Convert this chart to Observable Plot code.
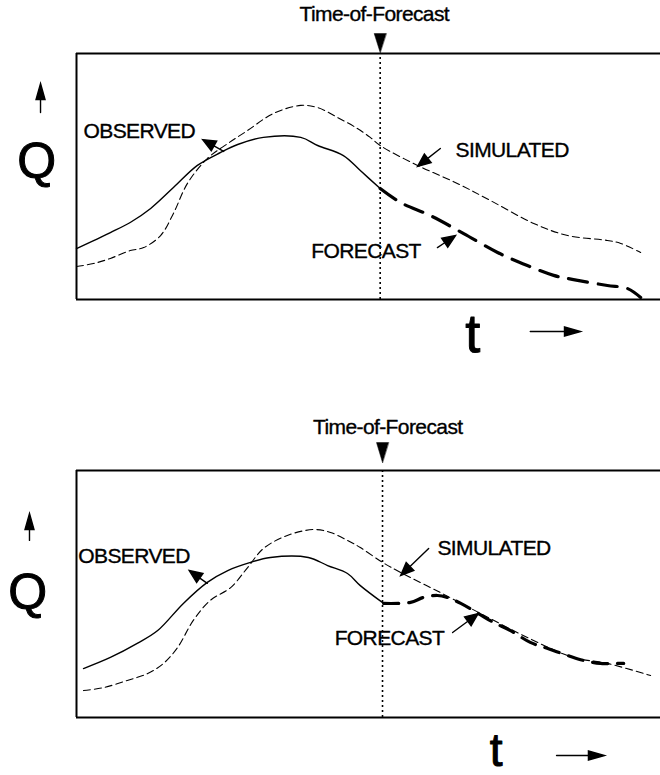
<!DOCTYPE html>
<html>
<head>
<meta charset="utf-8">
<script src="https://cdn.jsdelivr.net/npm/d3@7"></script>
<script src="https://cdn.jsdelivr.net/npm/@observablehq/plot@0.6"></script>
<style>
  html, body { margin: 0; padding: 0; background: #fff; }
  #chart svg { display: block; }
</style>
</head>
<body>
<div id="chart"></div>
<script>
// ---------- DATA (time t in % of window, discharge Q in % of frame) ----------
// Top panel
const tfTop = 52;
const observedTop = [[0,20.7],[5.8,27.2],[9.2,31.3],[12.7,37.0],[16.6,45.5],[20.7,54.5],[24.7,59.8],[27.6,63.0],[32.0,65.9],[38.4,65.9],[41.3,62.6],[45.7,58.5],[48.6,52.4],[52.0,45.1]];
const simulatedTop = [[0,13.4],[2.9,14.6],[5.8,16.7],[9.2,19.9],[11.5,21.1],[14.4,26.0],[16.6,35.0],[19.0,47.2],[22.4,57.3],[25.9,63.4],[29.3,68.7],[33.7,75.6],[38.4,78.9],[41.3,78.0],[44.7,74.0],[48.1,69.5],[50.3,65.9],[52.0,62.6],[58.4,54.5],[65.2,47.2],[70.9,40.2],[78.3,30.9],[84.1,26.0],[90.9,24.0],[93.2,22.8],[96.6,19.1]];
const forecastTop = [[52.0,45.1],[55.5,39.4],[60.6,34.1],[66.3,26.8],[72.1,19.1],[77.2,13.8],[81.7,9.8],[85.1,8.1],[90.9,5.7],[94.3,4.5],[96.6,0.8]];

// Bottom panel
const tfBottom = 52.4;
const observedBottom = [[1.2,19.8],[5.8,24.3],[10.4,30.0],[13.9,35.2],[18.3,46.2],[22.4,54.7],[25.9,59.5],[29.8,62.8],[33.2,64.8],[39.7,64.8],[43.0,61.5],[46.4,58.3],[48.6,53.4],[52.6,46.2]];
const simulatedBottom = [[1.2,10.9],[4.6,12.1],[8.7,15.0],[12.2,17.8],[14.9,21.9],[17.3,28.3],[20.0,39.3],[22.9,47.4],[26.4,52.6],[29.3,60.7],[32.0,68.4],[36.1,73.7],[40.6,76.1],[43.5,74.9],[46.4,71.7],[48.6,68.8],[52.4,62.8],[55.5,58.7],[62.3,50.6],[69.2,42.1],[77.2,32.4],[85.1,24.3],[90.9,21.9],[98.3,17.0]];
const forecastBottom = [[52.6,46.2],[57.2,46.6],[59.4,48.6],[61.8,49.4],[63.5,48.6],[65.8,46.2],[68.8,42.1],[71.4,38.5],[74.3,35.2],[77.7,30.4],[80.7,27.9],[84.1,25.1],[86.8,23.1],[89.7,21.9],[92.0,21.9],[93.7,21.9]];

// Labels: [t, Q, text]
const labelsTop = [[1.2,68.5,"OBSERVED"],[64.9,60.6,"SIMULATED"],[40.2,19.7,"FORECAST"]];
const labelsBottom = [[0.3,65.4,"OBSERVED"],[61.8,68.6,"SIMULATED"],[44.2,32.2,"FORECAST"]];
const titleTop = [[51.0,115.9,"Time-of-Forecast"]];
const titleBottom = [[53.3,117.6,"Time-of-Forecast"]];
const axisLetterTop = [[-6.85,55.7,"Q",50],[67.8,-14.5,"t",54]];
const axisLetterBottom = [[-8.4,50.6,"Q",50],[71.8,-13.6,"t",46]];

// Arrows: [t1, Q1, t2, Q2 (tip)]
const pointersTop = [[25.2,60.2,21.6,65.0],[62.3,61.4,58.4,54.1],[61.8,21.1,64.9,26.0]];
const pointersBottom = [[22.4,54.3,19.3,59.5],[60.3,68.4,55.5,57.5],[64.4,34.4,68.8,42.1]];
const axisArrowsTop = [[-6.16,76,-6.16,87.8],[77.7,-13,86.3,-13]];
const axisArrowsBottom = [[-8.05,71.7,-8.05,82.6],[82.2,-15.4,90.4,-15.4]];
const markerTop = [[tfTop,108.1,tfTop,100.4]];
const markerBottom = [[tfBottom,111.3,tfBottom,103.2]];

// ---------- DRAWING ----------
const W = 660, marginLeft = 76;
const kx = (W - marginLeft) / 100;

const arrowShape = (head, half) => ({
  draw(context, l) {
    const h = Math.min(head, l);
    if (l > h) { context.moveTo(0, 0); context.lineTo(0, -l + h); }
    context.moveTo(0, -l);
    context.lineTo(half, -l + h);
    context.lineTo(-half, -l + h);
    context.closePath();
  }
});

function panel(o) {
  const ky = (o.height - o.marginTop - o.marginBottom) / 100;
  const geo = (a) => {
    const dx = (a[2] - a[0]) * kx, dy = -(a[3] - a[1]) * ky;
    return {x: a[2], y: a[3], length: Math.hypot(dx, dy), rotate: Math.atan2(dx, -dy) * 180 / Math.PI};
  };
  const vec = (arr, shape, sw) => Plot.vector(arr.map(geo), {
    x: "x", y: "y", length: "length", rotate: "rotate", anchor: "end",
    shape, fill: "#000", stroke: "#000", strokeWidth: sw, strokeLinejoin: "miter"
  });
  const pt = {x: d => d[0], y: d => d[1]};
  const ink = {fill: "#000", stroke: "#000", paintOrder: "fill"};
  return Plot.plot({
    width: W, height: o.height,
    marginTop: o.marginTop, marginBottom: o.marginBottom, marginLeft, marginRight: 0,
    x: {domain: [0, 100], axis: null},
    y: {domain: [0, 100], axis: null},
    length: {type: "identity"},
    style: {fontFamily: "'Liberation Sans', Arial, Helvetica, sans-serif", background: "#fff", color: "#000", overflow: "visible", letterSpacing: "-0.6px"},
    marks: [
      Plot.ruleY([0, 100], {x1: 0, x2: 100, strokeWidth: 2}),
      Plot.ruleX([0], {y1: 0, y2: 100, strokeWidth: 2}),
      Plot.ruleX([o.tf], {y1: 0, y2: 100, strokeWidth: 1.6, strokeDasharray: "2,3"}),
      Plot.line(o.simulated, {...pt, strokeWidth: 1.1, strokeDasharray: "7,4", curve: "catmull-rom"}),
      Plot.line(o.observed, {...pt, strokeWidth: 1.4, curve: "catmull-rom"}),
      Plot.line(o.forecast, {...pt, strokeWidth: 3.2, strokeDasharray: o.forecastDash, curve: "catmull-rom"}),
      Plot.text(o.labels, {x: d => d[0], y: d => d[1], text: d => d[2], textAnchor: "start", fontSize: 21, ...ink, strokeWidth: 0.35}),
      Plot.text(o.title, {x: d => d[0], y: d => d[1], text: d => d[2], textAnchor: "middle", fontSize: 21, ...ink, strokeWidth: 0.35}),
      Plot.text(o.letters, {x: d => d[0], y: d => d[1], text: d => d[2], textAnchor: "middle", fontSize: d => d[3], ...ink, strokeWidth: 1}),
      vec(o.pointers, arrowShape(13, 5.5), 1.4),
      vec(o.axisArrows, arrowShape(16, 4.5), 1.4),
      vec(o.marker, arrowShape(30, 6), 0.5)
    ]
  });
}

const chart = document.getElementById("chart");
chart.append(panel({
  height: 387, marginTop: 53, marginBottom: 88, tf: tfTop,
  observed: observedTop, simulated: simulatedTop, forecast: forecastTop, forecastDash: "19,11",
  labels: labelsTop, title: titleTop, letters: axisLetterTop,
  pointers: pointersTop, axisArrows: axisArrowsTop, marker: markerTop
}));
chart.append(panel({
  height: 388, marginTop: 83, marginBottom: 58, tf: tfBottom,
  observed: observedBottom, simulated: simulatedBottom, forecast: forecastBottom, forecastDash: "15,10",
  labels: labelsBottom, title: titleBottom, letters: axisLetterBottom,
  pointers: pointersBottom, axisArrows: axisArrowsBottom, marker: markerBottom
}));
</script>
</body>
</html>
